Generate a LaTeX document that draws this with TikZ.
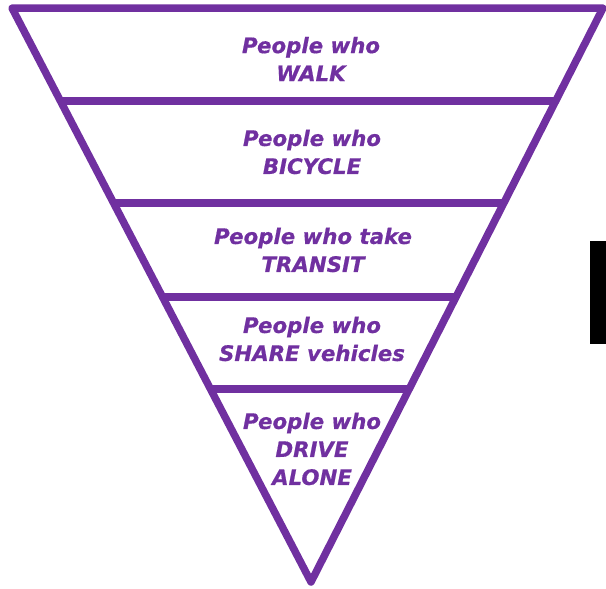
\documentclass[tikz,border=0pt]{standalone}
\usepackage{fontspec}
\setmainfont{DejaVu Sans}
\newfontfamily\lvlfont{DejaVu Sans}[BoldItalicFeatures={FakeBold=0.6}]
\usetikzlibrary{calc}
\definecolor{funnel}{HTML}{7030A0}
\tikzset{
  edge/.style={draw=funnel, line width=7.5pt, line join=round, line cap=round},
  level/.style={text=funnel, font=\lvlfont\fontsize{21.3}{28}\selectfont\bfseries\itshape, align=center, inner sep=0pt}
}
\begin{document}
\begin{tikzpicture}[x=1pt,y=-1pt]
\useasboundingbox (0,0) rectangle (606,589);
\coordinate (A) at (12,8);
\coordinate (B) at (603,8);
\coordinate (C) at (311,582);
\draw[edge] (A) -- (B) -- (C) -- cycle;
\foreach \t [count=\i] in {0.162,0.3397,0.5035,0.6638}{
  \coordinate (l\i) at ($(A)!\t!(C)$);
  \coordinate (r\i) at ($(B)!\t!(C)$);
  \draw[edge, line cap=butt] (l\i) -- (r\i);
}
\node[level] (walk) at (311,59) {People who\\WALK};
\node[level] (bike) at (312,152) {People who\\BICYCLE};
\node[level] (transit) at (313,250) {People who take\\TRANSIT};
\node[level] (share) at (312,339) {People who\\SHARE vehicles};
\node[level] (drive) at (312,449) {People who\\DRIVE\\ALONE};
\fill[black] (590,241) rectangle (606,344);
\end{tikzpicture}
\end{document}
